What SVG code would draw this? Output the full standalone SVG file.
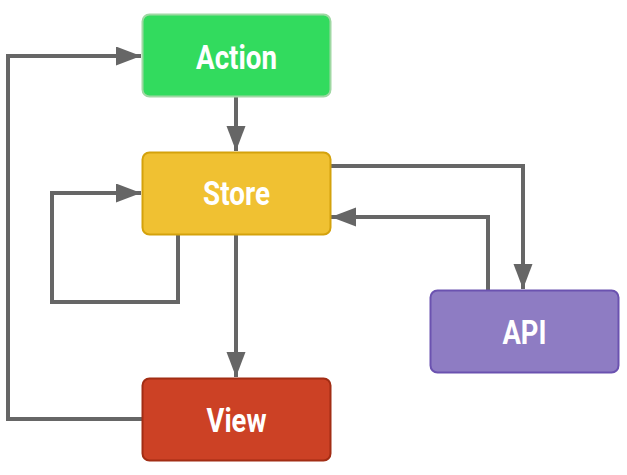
<svg xmlns="http://www.w3.org/2000/svg" width="627" height="475" viewBox="0 0 627 475">
<style>
.lbl{font-family:"Roboto","Liberation Sans",sans-serif;font-weight:bold;font-size:33px;fill:#ffffff;text-anchor:middle}
.c{fill:none;stroke:#666666;stroke-width:4}
</style>
<defs>
<marker id="ah" markerUnits="userSpaceOnUse" markerWidth="26" markerHeight="20" refX="25" refY="9.5" orient="auto" viewBox="0 0 26 20">
<path d="M0,0 L25,9.5 L0,19 Z" fill="#666666"/>
</marker>
</defs>
<rect width="627" height="475" fill="#ffffff"/>
<g id="connectors">
<path class="c" d="M236,96 V151" marker-end="url(#ah)"/>
<path class="c" d="M142,419 H8 V56 H141" marker-end="url(#ah)"/>
<path class="c" d="M178,234 V302 H52 V193 H141" marker-end="url(#ah)"/>
<path class="c" d="M236,234 V377" marker-end="url(#ah)"/>
<path class="c" d="M330,166 H523 V289" marker-end="url(#ah)"/>
<path class="c" d="M488,290 V217 H331" marker-end="url(#ah)"/>
</g>
<g id="action">
<rect x="142.5" y="14.5" width="188" height="82" rx="7" fill="#32db5e" stroke="#9fd8a3" stroke-width="2"/>
<text class="lbl" x="236.5" y="68.5" textLength="81" lengthAdjust="spacingAndGlyphs">Action</text>
</g>
<g id="store">
<rect x="142.5" y="152.5" width="188" height="82" rx="7" fill="#f0c132" stroke="#d4a20c" stroke-width="2"/>
<text class="lbl" x="236.5" y="204.5" textLength="67" lengthAdjust="spacingAndGlyphs">Store</text>
</g>
<g id="view">
<rect x="142.5" y="378.5" width="188" height="82" rx="7" fill="#cc4125" stroke="#a22d14" stroke-width="2"/>
<text class="lbl" x="236.5" y="431.5" textLength="60" lengthAdjust="spacingAndGlyphs">View</text>
</g>
<g id="api">
<rect x="430.5" y="290.5" width="188" height="82" rx="7" fill="#8e7cc3" stroke="#6b52b0" stroke-width="2"/>
<text class="lbl" x="524.5" y="343.5" textLength="44" lengthAdjust="spacingAndGlyphs">API</text>
</g>
</svg>
